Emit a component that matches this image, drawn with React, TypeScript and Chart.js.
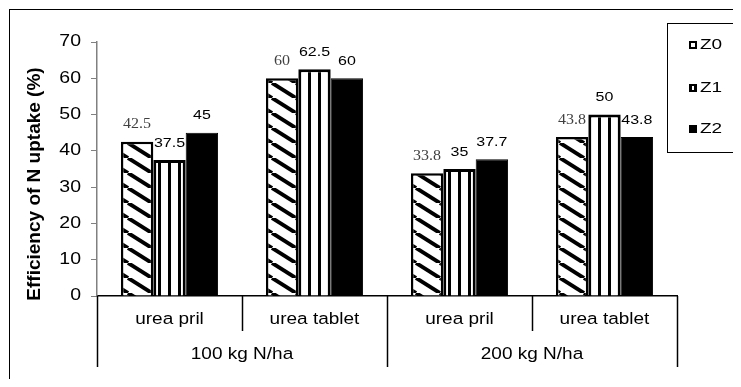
import React, { useEffect, useRef } from 'react';
import { Chart, registerables } from 'chart.js';
Chart.register(...registerables);

const groups = ['100 kg N/ha', '200 kg N/ha'];
const categories = ['urea pril', 'urea tablet', 'urea pril', 'urea tablet'];
const seriesNames = ['Z0', 'Z1', 'Z2'];
const z0 = [42.5, 60, 33.8, 43.8];
const z1 = [37.5, 62.5, 35, 50];
const z2 = [45, 60, 37.7, 43.8];
const yTicks = [0, 10, 20, 30, 40, 50, 60, 70];
const yTitle = 'Efficiency of N uptake (%)';

const W = 725;
const H = 371;

function makeDiagPattern(): CanvasPattern | string {
  const c = document.createElement('canvas');
  const w = 24, h = 15;
  c.width = w; c.height = h;
  const g = c.getContext('2d');
  if (!g) return '#fff';
  g.fillStyle = '#fff';
  g.fillRect(0, 0, w, h);
  g.strokeStyle = '#000';
  g.lineWidth = 4;
  for (let k = -1; k <= 1; k++) {
    g.beginPath();
    g.moveTo(k * w, 0);
    g.lineTo(k * w + w, h);
    g.stroke();
  }
  const p = g.createPattern(c, 'repeat');
  return p || '#fff';
}

function makeVertPattern(): CanvasPattern | string {
  const c = document.createElement('canvas');
  const w = 10, h = 10;
  c.width = w; c.height = h;
  const g = c.getContext('2d');
  if (!g) return '#fff';
  g.fillStyle = '#fff';
  g.fillRect(0, 0, w, h);
  g.fillStyle = '#000';
  g.fillRect(0, 0, 3, h);
  const p = g.createPattern(c, 'repeat');
  return p || '#fff';
}

function drawText(
  ctx: CanvasRenderingContext2D,
  text: string,
  x: number,
  y: number,
  font: string,
  sy: number,
  align: CanvasTextAlign,
  color: string
) {
  ctx.save();
  ctx.translate(x, y);
  ctx.scale(1, sy);
  ctx.font = font;
  ctx.textAlign = align;
  ctx.textBaseline = 'middle';
  ctx.fillStyle = color;
  ctx.fillText(text, 0, 0);
  ctx.restore();
}

const overlayPlugin = {
  id: 'overlay',
  afterDatasetsDraw(chart: any) {
    const ctx: CanvasRenderingContext2D = chart.ctx;
    chart.data.datasets.forEach((ds: any, di: number) => {
      const meta = chart.getDatasetMeta(di);
      meta.data.forEach((bar: any, i: number) => {
        const v = ds.data[i];
        const label = String(v);
        if (di === 0) {
          drawText(ctx, label, bar.x, bar.y - 17, '16px "Liberation Serif"', 0.86, 'center', '#404040');
        } else {
          drawText(ctx, label, bar.x, bar.y - 17, '16px "Liberation Sans"', 0.85, 'center', '#000');
        }
      });
    });
  },
  afterDraw(chart: any) {
    const ctx: CanvasRenderingContext2D = chart.ctx;
    const ys = chart.scales.y;
    const xs = chart.scales.x;
    const area = chart.chartArea;

    // outer border (top and left visible)
    ctx.save();
    ctx.strokeStyle = '#000';
    ctx.lineWidth = 1;
    ctx.strokeRect(1.5, 1.5, W + 100, H + 100);
    ctx.restore();

    // y tick labels
    yTicks.forEach((t) => {
      drawText(ctx, String(t), 73, ys.getPixelForValue(t), '19.5px "Liberation Sans"', 0.82, 'right', '#000');
    });

    // y title
    ctx.save();
    ctx.translate(27, 176);
    ctx.rotate(-Math.PI / 2);
    ctx.font = 'bold 19px "Liberation Sans"';
    ctx.textAlign = 'center';
    ctx.textBaseline = 'middle';
    ctx.fillStyle = '#000';
    ctx.fillText(yTitle, 0, 0);
    ctx.restore();

    // category dividers and labels
    const n = categories.length;
    const step = (area.right - area.left) / n;
    const base = area.bottom;
    ctx.save();
    ctx.strokeStyle = '#000';
    ctx.lineWidth = 1.5;
    for (let i = 0; i <= n; i++) {
      const x = Math.round(area.left + i * step) + 0.5;
      const long = i % 2 === 0;
      ctx.beginPath();
      ctx.moveTo(x, base);
      ctx.lineTo(x, base + (long ? 71 : 35));
      ctx.stroke();
    }
    ctx.restore();
    categories.forEach((c, i) => {
      const x = xs.getPixelForValue(i);
      drawText(ctx, c, x, base + 24, '19px "Liberation Sans"', 0.85, 'center', '#000');
    });
    groups.forEach((g, gi) => {
      const x = area.left + step * (gi * 2 + 1);
      drawText(ctx, g, x, base + 59, '19px "Liberation Sans"', 0.85, 'center', '#000');
    });

    // legend
    ctx.save();
    ctx.strokeStyle = '#000';
    ctx.lineWidth = 1;
    ctx.fillStyle = '#fff';
    ctx.fillRect(659.5, 15.5, 100, 129);
    ctx.strokeRect(659.5, 15.5, 100, 129);
    const ly = [37, 80, 121];
    seriesNames.forEach((s, i) => {
      const y = ly[i];
      const mx = 681, my = y - 4, ms = 8;
      if (i === 0) {
        ctx.fillStyle = '#fff';
        ctx.fillRect(mx, my, ms, ms);
        ctx.lineWidth = 2;
        ctx.strokeStyle = '#000';
        ctx.strokeRect(mx + 1, my + 1, ms - 2, ms - 2);
      } else if (i === 1) {
        ctx.fillStyle = '#000';
        ctx.fillRect(mx, my, ms, ms);
        ctx.fillStyle = '#fff';
        ctx.fillRect(mx + 3, my + 2, 2, ms - 4);
      } else {
        ctx.fillStyle = '#000';
        ctx.fillRect(mx, my, ms, ms);
      }
      drawText(ctx, s, 692, y, '19px "Liberation Sans"', 0.8, 'left', '#000');
    });
    ctx.restore();
  },
};

export default function App() {
  const ref = useRef<HTMLCanvasElement | null>(null);
  useEffect(() => {
    const canvas = ref.current;
    if (!canvas) return;
    const diag = makeDiagPattern();
    const vert = makeVertPattern();
    const chart = new Chart(canvas, {
      type: 'bar',
      data: {
        labels: categories,
        datasets: [
          {
            label: seriesNames[0],
            data: z0,
            backgroundColor: diag as any,
            borderColor: '#000',
            borderWidth: 2.5,
            barPercentage: 1,
            categoryPercentage: 0.67,
          },
          {
            label: seriesNames[1],
            data: z1,
            backgroundColor: vert as any,
            borderColor: '#000',
            borderWidth: 3,
            barPercentage: 1,
            categoryPercentage: 0.67,
          },
          {
            label: seriesNames[2],
            data: z2,
            backgroundColor: '#000',
            borderColor: '#000',
            borderWidth: 1,
            barPercentage: 1,
            categoryPercentage: 0.67,
          },
        ],
      },
      options: {
        responsive: false,
        animation: false,
        devicePixelRatio: 1,
        layout: { padding: { top: 34, right: 56, left: 0, bottom: 0 } },
        plugins: {
          legend: { display: false },
          tooltip: { enabled: false },
          title: { display: false },
        },
        scales: {
          x: {
            type: 'category',
            offset: true,
            grid: { display: false },
            border: { display: true, color: '#000', width: 1.5 },
            ticks: { display: false },
            afterFit: (s: any) => {
              s.height = H - 288;
            },
          },
          y: {
            min: 0,
            max: 70,
            ticks: { display: false, stepSize: 10 },
            grid: {
              display: true,
              drawOnChartArea: false,
              drawTicks: true,
              tickLength: 6,
              color: '#808080',
            },
            border: { display: true, color: '#808080', width: 1.5 },
            afterFit: (s: any) => {
              s.width = 89;
            },
          },
        },
      },
      plugins: [overlayPlugin],
    });
    return () => chart.destroy();
  }, []);
  return (
    <div style={{ width: W, height: H, overflow: 'hidden' }}>
      <canvas ref={ref} width={W} height={H} style={{ width: W, height: H, display: 'block' }} />
    </div>
  );
}
